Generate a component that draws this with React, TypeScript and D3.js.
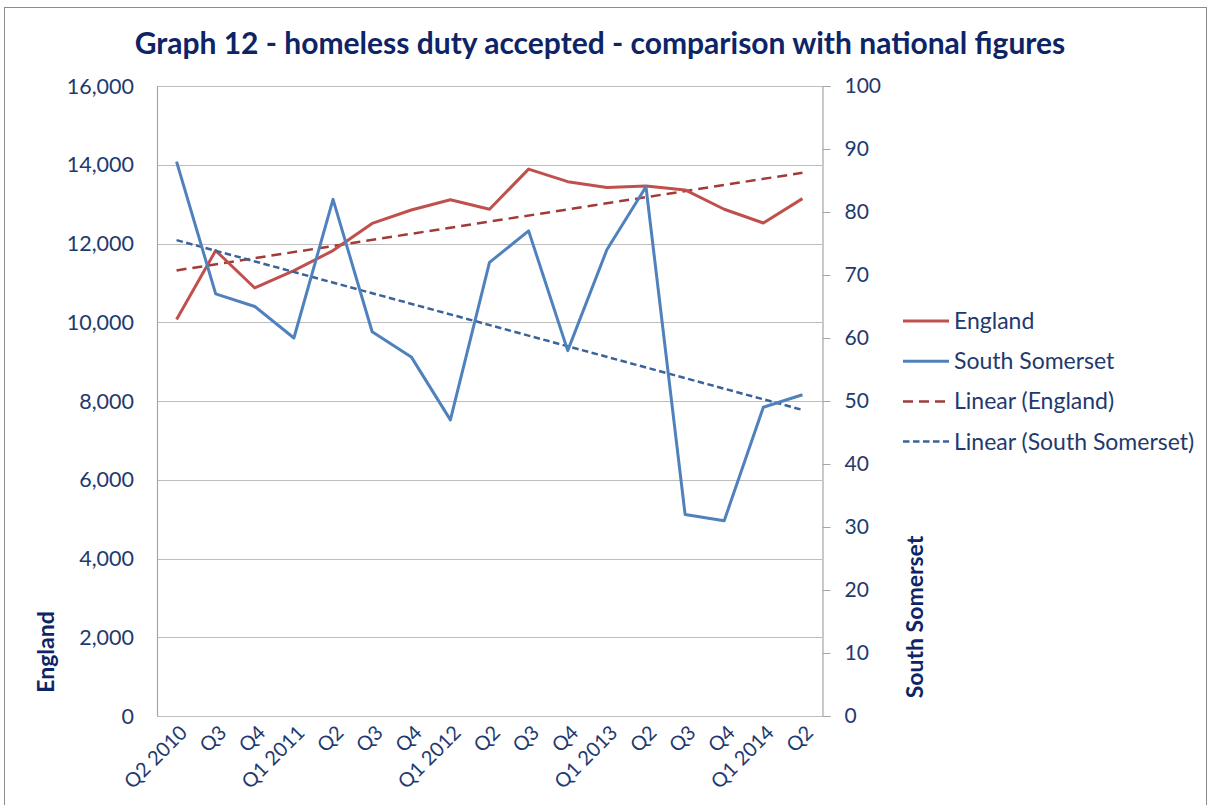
import * as d3 from "d3";
import { useEffect, useRef } from "react";

const quarters = [
  "Q2 2010", "Q3", "Q4", "Q1 2011", "Q2", "Q3", "Q4", "Q1 2012", "Q2",
  "Q3", "Q4", "Q1 2013", "Q2", "Q3", "Q4", "Q1 2014", "Q2",
];
const england = [
  10070, 11820, 10870, 11310, 11820, 12510, 12850, 13110, 12870,
  13890, 13570, 13420, 13460, 13360, 12870, 12520, 13140,
];
const southSomerset = [88, 67, 65, 60, 82, 61, 57, 47, 72, 77, 58, 74, 84, 32, 31, 49, 51];
const leftTicks = [0, 2000, 4000, 6000, 8000, 10000, 12000, 14000, 16000];
const rightTicks = [0, 10, 20, 30, 40, 50, 60, 70, 80, 90, 100];

const legendItems = [
  { label: "England", color: "#C0504D", dash: null, width: 3 },
  { label: "South Somerset", color: "#4F81BD", dash: null, width: 3 },
  { label: "Linear (England)", color: "#A03B38", dash: "10,6", width: 2.5 },
  { label: "Linear (South Somerset)", color: "#3A639A", dash: "6.5,3.5", width: 2.5 },
];

const W = 1209;
const H = 805;
const margin = { top: 86, right: 387, bottom: 89, left: 157 };
const textColor = "#1F3A6E";
const boldColor = "#0D2466";
const font = "Lato, 'Open Sans', sans-serif";

// least squares line over index positions
const trend = (vals: number[]) => {
  const n = vals.length;
  const xm = d3.mean(vals, (_, i) => i) as number;
  const ym = d3.mean(vals) as number;
  const slope =
    d3.sum(vals, (v, i) => (i - xm) * (v - ym)) / d3.sum(vals, (_, i) => (i - xm) ** 2);
  return [0, n - 1].map((i) => ({ i, v: ym + slope * (i - xm) }));
};

export default function App() {
  const svgRef = useRef<SVGSVGElement>(null);

  useEffect(() => {
    const svg = d3.select(svgRef.current);
    svg.selectAll("*").remove();

    const x0 = margin.left;
    const x1 = W - margin.right;
    const y0 = H - margin.bottom;
    const y1 = margin.top;

    const x = d3.scaleBand<number>().domain(d3.range(quarters.length)).range([x0, x1]);
    const cx = (i: number) => (x(i) as number) + x.bandwidth() / 2;
    const yL = d3.scaleLinear().domain([0, 16000]).range([y0, y1]);
    const yR = d3.scaleLinear().domain([0, 100]).range([y0, y1]);

    // outer chart border
    svg.append("rect")
      .attr("x", 4.5).attr("y", 7.5)
      .attr("width", W - 7).attr("height", H)
      .attr("fill", "white").attr("stroke", "#8C8C8C").attr("stroke-width", 1);

    // title
    svg.append("text")
      .attr("x", 600).attr("y", 54)
      .attr("text-anchor", "middle")
      .attr("font-family", font).attr("font-weight", "bold")
      .attr("font-size", 30).attr("fill", boldColor)
      .text("Graph 12 - homeless duty accepted - comparison with national figures");

    // gridlines
    svg.append("g")
      .selectAll("line")
      .data(leftTicks)
      .join("line")
      .attr("x1", x0).attr("x2", x1)
      .attr("y1", (d) => Math.round(yL(d)) + 0.5).attr("y2", (d) => Math.round(yL(d)) + 0.5)
      .attr("stroke", "#BDBDBD").attr("stroke-width", 1.2);

    // plot frame left / right
    svg.append("line")
      .attr("x1", x0 + 0.5).attr("x2", x0 + 0.5).attr("y1", y1).attr("y2", y0)
      .attr("stroke", "#A6A6A6").attr("stroke-width", 1.2);

    const rightAxis = svg.append("g").attr("transform", `translate(${x1 + 0.5},0)`)
      .call(d3.axisRight(yR).tickValues(rightTicks).tickSize(8).tickPadding(14).tickFormat(d3.format("d")));
    rightAxis.select(".domain").attr("stroke", "#A6A6A6").attr("stroke-width", 1.2);
    rightAxis.selectAll(".tick line").attr("stroke", "#A6A6A6");
    rightAxis.selectAll(".tick text")
      .attr("font-family", font).attr("font-size", 21).attr("fill", textColor);

    // left axis labels
    svg.append("g")
      .selectAll("text")
      .data(leftTicks)
      .join("text")
      .attr("x", 134)
      .attr("y", (d) => yL(d))
      .attr("dy", "0.36em")
      .attr("text-anchor", "end")
      .attr("font-family", font).attr("font-size", 21.5).attr("fill", textColor)
      .text((d) => d3.format(",")(d));

    // category labels
    svg.append("g")
      .selectAll("text")
      .data(quarters)
      .join("text")
      .attr("transform", (_, i) => `translate(${cx(i) + 7},${y0 + 13}) rotate(-45)`)
      .attr("text-anchor", "end")
      .attr("dy", "0.35em")
      .attr("font-family", font).attr("font-size", 20).attr("fill", textColor)
      .text((d) => d);

    // axis titles
    svg.append("text")
      .attr("transform", `translate(54,652) rotate(-90)`)
      .attr("text-anchor", "middle")
      .attr("font-family", font).attr("font-weight", "bold")
      .attr("font-size", 23).attr("fill", boldColor)
      .text("England");
    svg.append("text")
      .attr("transform", `translate(923,617) rotate(-90)`)
      .attr("text-anchor", "middle")
      .attr("font-family", font).attr("font-weight", "bold")
      .attr("font-size", 23).attr("fill", boldColor)
      .text("South Somerset");

    // series
    const lineL = d3.line<number>().x((_, i) => cx(i)).y((d) => yL(d));
    const lineR = d3.line<number>().x((_, i) => cx(i)).y((d) => yR(d));

    const trendE = trend(england);
    const trendS = trend(southSomerset);

    svg.append("path")
      .attr("d", d3.line<{ i: number; v: number }>().x((d) => cx(d.i)).y((d) => yL(d.v))(trendE))
      .attr("fill", "none").attr("stroke", legendItems[2].color)
      .attr("stroke-width", 2.5).attr("stroke-dasharray", legendItems[2].dash as string);

    svg.append("path")
      .attr("d", lineL(england))
      .attr("fill", "none").attr("stroke", legendItems[0].color)
      .attr("stroke-width", 3).attr("stroke-linejoin", "round");

    svg.append("path")
      .attr("d", d3.line<{ i: number; v: number }>().x((d) => cx(d.i)).y((d) => yR(d.v))(trendS))
      .attr("fill", "none").attr("stroke", legendItems[3].color)
      .attr("stroke-width", 2.5).attr("stroke-dasharray", legendItems[3].dash as string);

    svg.append("path")
      .attr("d", lineR(southSomerset))
      .attr("fill", "none").attr("stroke", legendItems[1].color)
      .attr("stroke-width", 3).attr("stroke-linejoin", "round");

    // legend
    const leg = svg.append("g")
      .selectAll("g")
      .data(legendItems)
      .join("g")
      .attr("transform", (_, i) => `translate(903,${321 + i * 40.2})`);
    leg.append("line")
      .attr("x1", 0).attr("x2", 46)
      .attr("stroke", (d) => d.color)
      .attr("stroke-width", (d) => d.width)
      .attr("stroke-dasharray", (d) => d.dash ?? null);
    leg.append("text")
      .attr("x", 51).attr("dy", "0.35em")
      .attr("font-family", font).attr("font-size", 23).attr("fill", textColor)
      .text((d) => d.label);
  }, []);

  return (
    <div style={{ position: "absolute", left: 0, top: 0, width: W, height: H, background: "white" }}>
      <svg ref={svgRef} width={W} height={H} style={{ display: "block" }} />
    </div>
  );
}
